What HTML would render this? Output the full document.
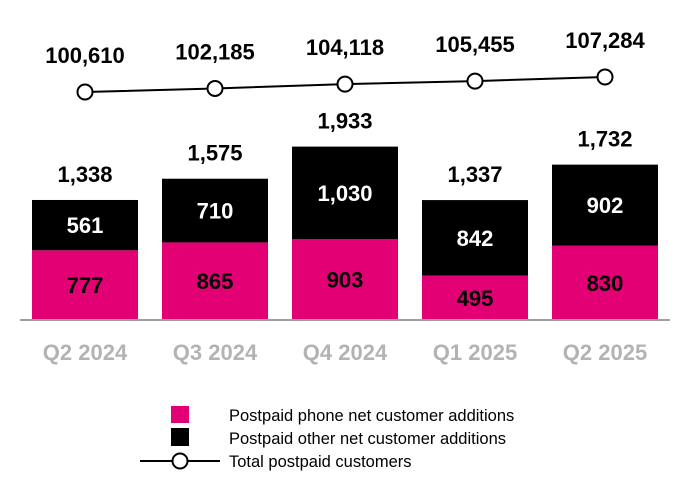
<!DOCTYPE html>
<html><head><meta charset="utf-8"><style>
body{margin:0;background:#fff;}
svg{display:block;font-family:"Liberation Sans",Arial,sans-serif;}
</style></head><body>
<svg id="chart" width="690" height="500" viewBox="0 0 690 500">
<g id="bars"></g>
<g id="line"></g>
<line x1="20" y1="320" x2="670" y2="320" stroke="#a0a0a0" stroke-width="2"/>
<g id="xlabels"></g>
<g>
<rect x="171" y="406" width="18" height="17" fill="#e20074"/>
<text x="229" y="421" font-size="16.5">Postpaid phone net customer additions</text>
<rect x="171" y="428" width="18" height="18" fill="#000"/>
<text x="229" y="444" font-size="16.5">Postpaid other net customer additions</text>
<line x1="140" y1="461" x2="220" y2="461" stroke="#000" stroke-width="2"/>
<circle cx="180" cy="461" r="7.5" fill="#fff" stroke="#000" stroke-width="2"/>
<text x="229" y="467" font-size="16.5">Total postpaid customers</text>
</g>
</svg>
<script>
const categories=["Q2 2024","Q3 2024","Q4 2024","Q1 2025","Q2 2025"];
const phoneAdds=[777,865,903,495,830];
const otherAdds=[561,710,1030,842,902];
const totalCustomers=[100610,102185,104118,105455,107284];
const NS="http://www.w3.org/2000/svg";
const base=320, barScale=0.0897, barW=106;
const xc=i=>85+i*130;
const yb=v=>base-v*barScale;
const yl=v=>92-(v-100610)*0.00225;
const fmt=v=>v.toLocaleString("en-US");
function mk(tag,attrs,parent){const e=document.createElementNS(NS,tag);for(const k in attrs)e.setAttribute(k,attrs[k]);parent.appendChild(e);return e;}
const gb=document.getElementById("bars"),gl=document.getElementById("line"),gx=document.getElementById("xlabels");
categories.forEach((c,i)=>{
  const p=phoneAdds[i],o=otherAdds[i],t=p+o,x=xc(i)-barW/2;
  const r1=mk("rect",{x:x,y:yb(p),width:barW,height:base-yb(p),fill:"#e20074"},gb);
  
  
  const r2=mk("rect",{x:x,y:yb(t),width:barW,height:yb(p)-yb(t),fill:"#000"},gb);
  
  
  const l1=mk("text",{x:xc(i),y:(yb(p)+base)/2+8,"text-anchor":"middle","font-size":"22","font-weight":"bold",fill:"#000"},gb);
  l1.textContent=fmt(p);
  
  
  const l2=mk("text",{x:xc(i),y:(yb(t)+yb(p))/2+8,"text-anchor":"middle","font-size":"22","font-weight":"bold",fill:"#fff"},gb);
  l2.textContent=fmt(o);
  
  
  const l3=mk("text",{x:xc(i),y:yb(t)-18,"text-anchor":"middle","font-size":"22","font-weight":"bold",fill:"#000"},gb);
  l3.textContent=fmt(t);
  
  
  const xl=mk("text",{x:xc(i),y:360,"text-anchor":"middle","font-size":"22","font-weight":"bold",fill:"#b3b3b3"},gx);
  xl.textContent=c;
  
  
});
const pts=totalCustomers.map((v,i)=>xc(i)+","+yl(v)).join(" ");
const pl=mk("polyline",{points:pts,fill:"none",stroke:"#000","stroke-width":"2"},gl);


totalCustomers.forEach((v,i)=>{
  const c=mk("circle",{cx:xc(i),cy:yl(v),r:7.5,fill:"#fff",stroke:"#000","stroke-width":"2"},gl);
  
  
  const t=mk("text",{x:xc(i),y:yl(v)-29,"text-anchor":"middle","font-size":"22","font-weight":"bold",fill:"#000"},gl);
  t.textContent=fmt(v);
  
  
});
</script>
</body></html>
